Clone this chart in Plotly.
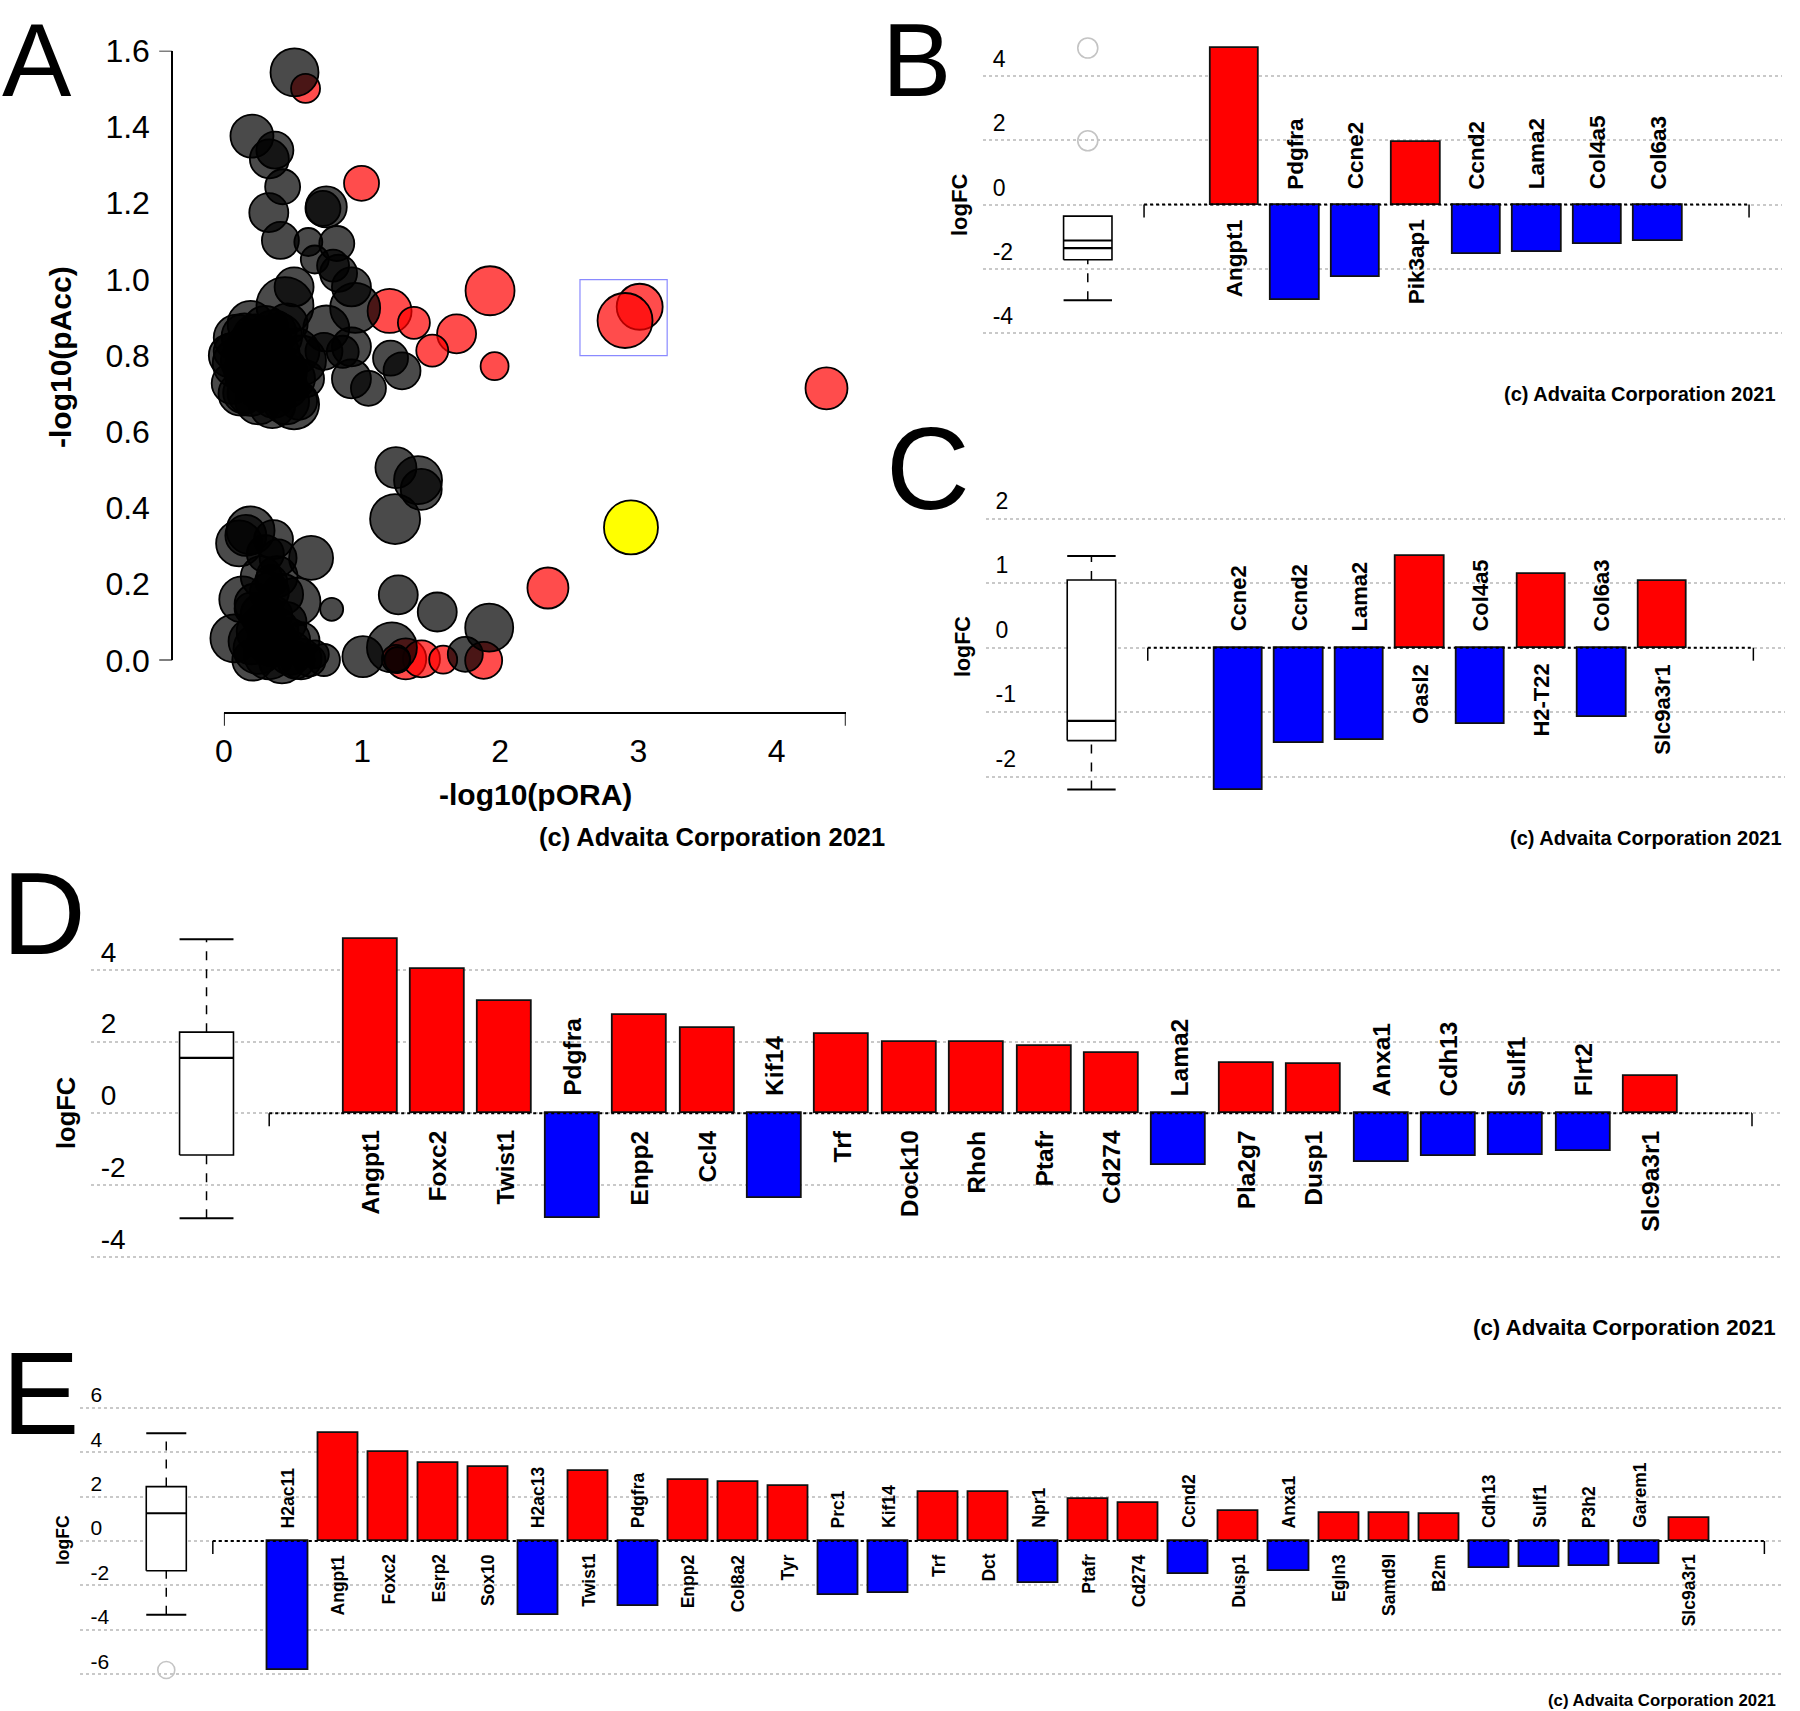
import plotly.graph_objects as go

W, H = 1800, 1711
FONT = "Liberation Sans, Arial, Helvetica, sans-serif"
RED = "#ff0000"
BLUE = "#0000ff"

# ---------------- Panel A : bubble plot ----------------
A_BLACK_X = [0.511, 0.203, 0.369, 0.329, 0.425, 0.741, 0.717, 0.325, 0.409, 0.611, 0.817, 0.658, 0.790,
             0.830, 0.923, 0.950, 0.508, 0.442, 0.741, 0.923, 0.860, 1.206, 1.289, 0.923, 1.046, 0.724,
             -0.023, 0.093, 0.193, 0.060, 0.143, 0.193, 0.359, 0.508, 0.541, 0.392, 0.558, 0.259, 0.159,
             0.359, 0.458, 0.525, 0.292, 0.591, 0.458, 0.060, 0.226, 0.300,
             0.100, 0.200, 0.280, 0.350, 0.420, 0.150, 0.300, 0.400, 0.250, 0.450, 0.120, 0.500, 0.350,
             0.220, 0.050,
             1.245, 1.405, 1.428, 1.239, 0.193, 0.110, 0.159, 0.359, 0.631, 0.392, 0.385, 0.342, 0.133,
             0.226, 0.525, 0.425, 0.780, 1.262, 1.544, 1.920, 0.076, 0.259, 0.458, 0.209, 0.392, 0.326,
             0.558, 0.724, 0.840, 1.006, 1.073, 1.216, 1.255, 1.625, 1.747, 0.193, 0.558, 0.658, 0.360, 0.300,
             0.250, 0.300, 0.350, 0.420, 0.480, 0.200, 0.280, 0.380, 0.330, 0.270, 0.300, 0.450, 0.620, 0.520]
A_BLACK_Y = [1.543, 1.376, 1.339, 1.316, 1.243, 1.190, 1.186, 1.175, 1.102, 1.098, 1.094, 1.052, 1.036,
             1.016, 0.980, 0.925, 0.980, 0.931, 0.871, 0.823, 0.810, 0.793, 0.760, 0.739, 0.714, 0.811,
             0.757, 0.847, 0.883, 0.727, 0.702, 0.702, 0.690, 0.672, 0.680, 0.739, 0.787, 0.811, 0.787,
             0.859, 0.883, 0.811, 0.757, 0.739, 0.716, 0.811, 0.850, 0.800,
             0.780, 0.760, 0.720, 0.800, 0.760, 0.850, 0.870, 0.850, 0.680, 0.680, 0.700, 0.740, 0.670,
             0.820, 0.800,
             0.506, 0.473, 0.449, 0.371, 0.341, 0.307, 0.328, 0.317, 0.269, 0.269, 0.220, 0.208, 0.160,
             0.148, 0.154, 0.173, 0.134, 0.172, 0.127, 0.086, 0.058, 0.076, 0.052, 0.001, -0.020, 0.016,
             0.004, 0.001, -0.002, 0.010, -0.002, 0.034, 0.001, -0.002, 0.016, 0.136, 0.052, 0.016, 0.120, 0.100,
             0.030, -0.010, 0.050, 0.000, 0.020, 0.050, 0.120, 0.080, 0.180, 0.220, 0.280, 0.100, 0.000, 0.000]
A_BLACK_SIZE = [48, 43, 37, 39, 35, 41, 35, 39, 37, 28, 35, 28, 32,
                37, 39, 50, 39, 57, 46, 39, 32, 35, 37, 39, 35, 37,
                48, 46, 46, 41, 41, 46, 41, 50, 37, 55, 50, 50, 50,
                46, 41, 46, 46, 37, 41, 37, 44, 50,
                50, 55, 50, 55, 50, 46, 46, 46, 46, 46, 44, 44, 46,
                55, 44,
                41, 48, 41, 50, 48, 46, 41, 39, 44, 37, 41, 32, 46,
                41, 48, 41, 23, 39, 39, 48, 48, 46, 46, 41, 57, 50,
                41, 32, 32, 41, 17, 50, 26, 23, 35, 32, 37, 28, 37, 41,
                50, 50, 50, 46, 44, 46, 44, 44, 39, 41, 37, 41, 32, 37]

A_RED_X = [0.591, 0.996, 1.926, 1.199, 1.375, 1.684, 1.508, 1.959, 3.009, 2.903, 4.361, 2.345,
           1.365, 1.316, 1.430, 1.245, 1.587, 1.880, 1.890]
A_RED_Y = [1.501, 1.252, 0.970, 0.917, 0.886, 0.857, 0.813, 0.772, 0.928, 0.892, 0.714, 0.190,
           -0.006, 0.004, 0.004, 0.004, 0.002, 0.000, -0.002]
A_RED_SIZE = [29, 35, 49, 44, 32, 39, 32, 28, 46, 55, 42, 41,
              57, 41, 37, 28, 28, 37, 28]

A_YELLOW_X = [2.946]
A_YELLOW_Y = [0.349]
A_YELLOW_SIZE = [54]

A_X_TICKS = [0, 1, 2, 3, 4]
A_X_MAX = 4.5
A_Y_TICKS = [0.0, 0.2, 0.4, 0.6, 0.8, 1.0, 1.2, 1.4, 1.6]
A_SELECT_BOX = [2.577, 3.208, 0.800, 0.999]   # x0, x1, y0, y1

# ---------------- Panels B-E : bar plots ----------------
B_GENES = ["Angpt1", "Pdgfra", "Ccne2", "Pik3ap1", "Ccnd2", "Lama2", "Col4a5", "Col6a3"]
B_LOGFC = [4.86, -2.97, -2.25, 1.95, -1.54, -1.47, -1.24, -1.12]
B_BOX = [-2.97, -1.715, -1.355, -0.36, -1.12]      # lower whisker, q1, median, q3, upper whisker
B_OUTLIERS = [4.86, 1.98]
B_TICKS = [-4, -2, 0, 2, 4]

C_GENES = ["Ccne2", "Ccnd2", "Lama2", "Oasl2", "Col4a5", "H2-T22", "Col6a3", "Slc9a3r1"]
C_LOGFC = [-2.20, -1.48, -1.43, 1.42, -1.19, 1.14, -1.08, 1.03]
C_BOX = [-2.20, -1.44, -1.135, 1.05, 1.42]
C_OUTLIERS = []
C_TICKS = [-2, -1, 0, 1, 2]

D_GENES = ["Angpt1", "Foxc2", "Twist1", "Pdgfra", "Enpp2", "Ccl4", "Kif14", "Trf", "Dock10", "Rhoh",
           "Ptafr", "Cd274", "Lama2", "Pla2g7", "Dusp1", "Anxa1", "Cdh13", "Sulf1", "Flrt2", "Slc9a3r1"]
D_LOGFC = [4.85, 4.02, 3.14, -2.92, 2.73, 2.37, -2.35, 2.22, 1.99, 1.98,
           1.87, 1.69, -1.43, 1.40, 1.36, -1.355, -1.19, -1.15, -1.05, 1.03]
D_BOX = [-2.92, -1.16, 1.545, 2.26, 4.85]
D_OUTLIERS = []
D_TICKS = [-4, -2, 0, 2, 4]

E_GENES = ["H2ac11", "Angpt1", "Foxc2", "Esrp2", "Sox10", "H2ac13", "Twist1", "Pdgfra", "Enpp2", "Col8a2",
           "Tyr", "Prc1", "Kif14", "Trf", "Dct", "Npr1", "Ptafr", "Cd274", "Ccnd2", "Dusp1",
           "Anxa1", "Egln3", "Samd9l", "B2m", "Cdh13", "Sulf1", "P3h2", "Garem1", "Slc9a3r1"]
E_LOGFC = [-5.81, 4.85, 4.02, 3.50, 3.35, -3.33, 3.14, -2.93, 2.73, 2.64,
           2.46, -2.45, -2.36, 2.22, 2.19, -1.88, 1.88, 1.70, -1.50, 1.37,
           -1.35, 1.28, 1.26, 1.22, -1.20, -1.17, -1.13, -1.05, 1.04]
E_BOX = [-3.32, -1.34, 1.25, 2.45, 4.85]
E_OUTLIERS = [-5.81]
E_TICKS = [-6, -4, -2, 0, 2, 4, 6]

COPYRIGHT = "(c) Advaita Corporation 2021"

fig = go.Figure()

# ---------------- Panel A ----------------
A_DOM_X = [223.9 / W, 845.7 / W]
A_DOM_Y = [1 - 660.4 / H, 1 - 50.7 / H]
A_XAXIS_POS = 1 - 712.7 / H
A_YAXIS_POS = 172.2 / W

fig.add_trace(go.Scatter(x=A_RED_X, y=A_RED_Y, mode="markers", cliponaxis=False, showlegend=False,
                         marker=dict(size=A_RED_SIZE, color="rgba(255,0,0,0.70)", opacity=1,
                                     line=dict(color="black", width=1.8)),
                         xaxis="x", yaxis="y", hoverinfo="skip"))
fig.add_trace(go.Scatter(x=A_BLACK_X, y=A_BLACK_Y, mode="markers", cliponaxis=False, showlegend=False,
                         marker=dict(size=A_BLACK_SIZE, color="rgba(0,0,0,0.71)", opacity=1,
                                     line=dict(color="black", width=1.8)),
                         xaxis="x", yaxis="y", hoverinfo="skip"))
fig.add_trace(go.Scatter(x=A_YELLOW_X, y=A_YELLOW_Y, mode="markers", cliponaxis=False, showlegend=False,
                         marker=dict(size=A_YELLOW_SIZE, color="#ffff00", opacity=1,
                                     line=dict(color="black", width=1.8)),
                         xaxis="x", yaxis="y", hoverinfo="skip"))

layout_axes = {}
layout_axes["xaxis"] = dict(domain=A_DOM_X, range=[0, A_X_MAX], anchor="free", position=A_XAXIS_POS,
                            showline=True, linecolor="black", linewidth=1.8, showgrid=False, zeroline=False,
                            tickvals=A_X_TICKS, ticktext=[str(t) for t in A_X_TICKS],
                            ticks="outside", ticklen=10, tickcolor="rgba(0,0,0,0)", automargin=False,
                            tickfont=dict(size=32, color="black", family=FONT))
layout_axes["yaxis"] = dict(domain=A_DOM_Y, range=[0, A_Y_TICKS[-1]], anchor="free", position=A_YAXIS_POS,
                            showline=True, linecolor="black", linewidth=1.8, showgrid=False, zeroline=False,
                            tickvals=A_Y_TICKS, ticktext=["%.1f" % t for t in A_Y_TICKS],
                            ticks="outside", ticklen=15, tickcolor="rgba(0,0,0,0)", automargin=False,
                            tickfont=dict(size=32, color="black", family=FONT))

shapes = []
annotations = []
# axis end ticks (panel A)
for xv in [0, A_X_MAX]:
    shapes.append(dict(type="line", xref="x", yref="paper", x0=xv, x1=xv,
                       y0=A_XAXIS_POS, y1=A_XAXIS_POS - 13 / H, line=dict(color="black", width=1.8)))
for yv in [0, A_Y_TICKS[-1]]:
    shapes.append(dict(type="line", xref="paper", yref="y", x0=A_YAXIS_POS, x1=A_YAXIS_POS - 13 / W,
                       y0=yv, y1=yv, line=dict(color="black", width=1.8)))
shapes.append(dict(type="rect", xref="x", yref="y", x0=A_SELECT_BOX[0], x1=A_SELECT_BOX[1],
                   y0=A_SELECT_BOX[2], y1=A_SELECT_BOX[3], line=dict(color="#8a8aff", width=1.2)))

annotations.append(dict(text="<b>-log10(pORA)</b>", xref="paper", yref="paper", x=535 / W, y=1 - 794 / H,
                        showarrow=False, xanchor="center", yanchor="middle",
                        font=dict(size=30, color="black", family=FONT)))
annotations.append(dict(text="<b>-log10(pAcc)</b>", xref="paper", yref="paper", x=60 / W, y=1 - 357 / H,
                        showarrow=False, xanchor="center", yanchor="middle", textangle=-90,
                        font=dict(size=30, color="black", family=FONT)))
annotations.append(dict(text="<b>" + COPYRIGHT + "</b>", xref="paper", yref="paper", x=887 / W, y=1 - 837 / H,
                        showarrow=False, xanchor="right", yanchor="middle",
                        font=dict(size=25.5, color="black", family=FONT)))

# panel letters (A and B pinned to the top edge so their boxes stay inside the page)
for letter, lx, ly, anc in [("A", 0, 0, "top"), ("B", 880, 0, "top"),
                            ("C", 884, 469, "middle"), ("D", 0, 913.5, "middle"), ("E", 0, 1394, "middle")]:
    annotations.append(dict(text=letter, xref="paper", yref="paper", x=lx / W, y=1 - ly / H,
                            showarrow=False, xanchor="left", yanchor=anc,
                            font=dict(size=104 if anc == "top" else 116, color="black", family=FONT)))

# ---------------- Bar panels ----------------
BOX_POS = -2.43
BOX_HALF = 0.4
BAR_W = 0.8

PANELS = [
    dict(k=2, genes=B_GENES, vals=B_LOGFC, box=B_BOX, out=B_OUTLIERS, ticks=B_TICKS,
         x0=1234.8, sp=60.5, left=982.7, right=1782, y0=204.5, ppu=32.2, top=25, bottom=370,
         lab=22.5, tick=23, shift=17, gap=13, outsz=20, logfc=(959, 205, 22), cr=(1778, 394, 20)),
    dict(k=3, genes=C_GENES, vals=C_LOGFC, box=C_BOX, out=C_OUTLIERS, ticks=C_TICKS,
         x0=1238.6, sp=60.56, left=985.6, right=1785, y0=647.7, ppu=64.5, top=470, bottom=800,
         lab=22, tick=23, shift=18, gap=14, outsz=20, logfc=(963, 647, 21.5), cr=(1784, 838, 20)),
    dict(k=4, genes=D_GENES, vals=D_LOGFC, box=D_BOX, out=D_OUTLIERS, ticks=D_TICKS,
         x0=370.3, sp=67.4, left=90.7, right=1782, y0=1113.3, ppu=35.9, top=920, bottom=1290,
         lab=24.5, tick=28, shift=18, gap=15, outsz=20, logfc=(66, 1113, 25.5), cr=(1778, 1327, 22.3)),
    dict(k=5, genes=E_GENES, vals=E_LOGFC, box=E_BOX, out=E_OUTLIERS, ticks=E_TICKS,
         x0=287.9, sp=50.05, left=80.4, right=1782, y0=1541, ppu=22.2, top=1380, bottom=1695,
         lab=17.5, tick=21, shift=13, gap=11, outsz=17, logfc=(63, 1540, 17.5), cr=(1778, 1700, 16.8)),
]

for p in PANELS:
    k = p["k"]
    xa, ya = "x%d" % k, "y%d" % k
    vals = p["vals"]
    n = len(vals)
    idx = list(range(n))
    colors = [RED if v > 0 else BLUE for v in vals]
    fig.add_trace(go.Bar(x=idx, y=vals, width=BAR_W, xaxis=xa, yaxis=ya, showlegend=False, hoverinfo="skip",
                         marker=dict(color=colors, line=dict(color="#111111", width=1.8))))
    lo, q1, med, q3, hi = p["box"]
    bl, br = BOX_POS - BOX_HALF, BOX_POS + BOX_HALF
    fig.add_trace(go.Scatter(x=[BOX_POS, BOX_POS], y=[lo, q1], mode="lines", xaxis=xa, yaxis=ya,
                             showlegend=False, hoverinfo="skip",
                             line=dict(color="black", width=1.5, dash="dash")))
    if hi > q3:
        fig.add_trace(go.Scatter(x=[BOX_POS, BOX_POS], y=[q3, hi], mode="lines", xaxis=xa, yaxis=ya,
                                 showlegend=False, hoverinfo="skip",
                                 line=dict(color="black", width=1.5, dash="dash")))
    fig.add_trace(go.Scatter(x=[bl, br, br, bl, bl], y=[q1, q1, q3, q3, q1], mode="lines", fill="toself",
                             fillcolor="white", xaxis=xa, yaxis=ya, showlegend=False, hoverinfo="skip",
                             line=dict(color="black", width=1.6)))
    for yv, wdt in [(med, 2.2), (lo, 2), (hi, 2)]:
        fig.add_trace(go.Scatter(x=[bl, br], y=[yv, yv], mode="lines", xaxis=xa, yaxis=ya,
                                 showlegend=False, hoverinfo="skip", line=dict(color="black", width=wdt)))
    if p["out"]:
        fig.add_trace(go.Scatter(x=[BOX_POS] * len(p["out"]), y=p["out"], mode="markers", xaxis=xa, yaxis=ya,
                                 showlegend=False, hoverinfo="skip",
                                 marker=dict(symbol="circle-open", size=p["outsz"], color="#c4c4c4",
                                             opacity=1, line=dict(width=1.6))))
    xr = [(p["left"] - p["x0"]) / p["sp"], (p["right"] - p["x0"]) / p["sp"]]
    yr = [(p["y0"] - p["bottom"]) / p["ppu"], (p["y0"] - p["top"]) / p["ppu"]]
    layout_axes["xaxis%d" % k] = dict(domain=[p["left"] / W, p["right"] / W], range=xr, anchor=ya,
                                      showticklabels=False, showgrid=False, zeroline=False, showline=False,
                                      ticks="", automargin=False)
    layout_axes["yaxis%d" % k] = dict(domain=[1 - p["bottom"] / H, 1 - p["top"] / H], range=yr, anchor=xa,
                                      tickvals=p["ticks"], ticktext=[str(t) for t in p["ticks"]],
                                      ticks="", showline=False, zeroline=False, automargin=False,
                                      showgrid=True, gridcolor="#c9c9c9", griddash="dot", gridwidth=1.6,
                                      ticklabelposition="inside", ticklabelshift=-p["shift"],
                                      ticklabelstandoff=7,
                                      tickfont=dict(size=p["tick"], color="black", family=FONT))
    shapes.append(dict(type="line", xref=xa, yref=ya, x0=-1.5, x1=n + 0.5, y0=0, y1=0,
                       line=dict(color="black", width=2, dash="dot")))
    for xv in [-1.5, n + 0.5]:
        shapes.append(dict(type="line", xref=xa, yref=ya, ysizemode="pixel", yanchor=0, x0=xv, x1=xv,
                           y0=0, y1=-13, line=dict(color="black", width=1.5)))
    for i, (g, v) in enumerate(zip(p["genes"], vals)):
        annotations.append(dict(text="<b>%s</b>" % g, xref=xa, yref=ya, x=i, y=0, showarrow=False,
                                textangle=-90, xanchor="center",
                                yanchor="top" if v > 0 else "bottom",
                                yshift=-p["gap"] if v > 0 else p["gap"],
                                font=dict(size=p["lab"], color="black", family=FONT)))
    lx, ly, ls = p["logfc"]
    annotations.append(dict(text="<b>logFC</b>", xref="paper", yref="paper", x=lx / W, y=1 - ly / H,
                            showarrow=False, textangle=-90, xanchor="center", yanchor="middle",
                            font=dict(size=ls, color="black", family=FONT)))
    cx, cy, cs = p["cr"]
    annotations.append(dict(text="<b>" + COPYRIGHT + "</b>", xref="paper", yref="paper", x=cx / W, y=1 - cy / H,
                            showarrow=False, xanchor="right", yanchor="middle",
                            font=dict(size=cs, color="black", family=FONT)))

fig.update_layout(width=W, height=H, margin=dict(l=0, r=0, t=0, b=0, pad=0, autoexpand=False),
                  paper_bgcolor="white", plot_bgcolor="white", showlegend=False,
                  font=dict(family=FONT, color="black"),
                  shapes=shapes, annotations=annotations, bargap=0, **layout_axes)

fig.write_html("out.html", config={"displayModeBar": False},
               post_script="document.body.style.margin='0';document.body.style.overflow='hidden';")
